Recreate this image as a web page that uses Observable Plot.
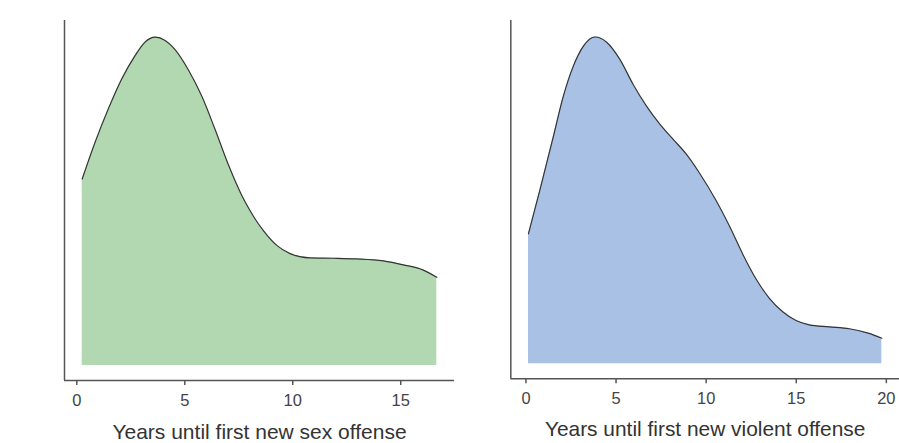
<!DOCTYPE html>
<html>
<head>
<meta charset="utf-8">
<script src="https://cdn.jsdelivr.net/npm/d3@7"></script>
<script src="https://cdn.jsdelivr.net/npm/@observablehq/plot@0.6"></script>
<style>
  html, body { margin: 0; padding: 0; background: #fff; overflow: hidden; }
  #wrap { position: relative; width: 899px; height: 443px; overflow: hidden; font-family: "Liberation Sans", Arial, sans-serif; }
  #left, #right { position: absolute; top: 0; }
  #left { left: 0; }
  #right { left: 470px; }
  svg g[aria-label="x-axis tick label"] { font-size: 16.5px !important; fill: #444 !important; }
  svg g[aria-label="x-axis label"] { font-size: 21px !important; fill: #333 !important; }
</style>
</head>
<body>
<div id="wrap"><div id="left"></div><div id="right"></div></div>
<script>
// Sex offense: years until first new offense (density, scaled so the peak is ~1)
const sexYears   = [0.25, 0.85, 1.46, 2.08, 2.70, 3.16, 3.63, 4.09, 4.55, 5.17, 5.79, 6.40, 7.02, 7.64, 8.02, 8.25, 8.64, 9.26, 9.88, 10.80, 11.88, 12.96, 14.19, 15.12, 16.05, 16.67];
const sexDensity = [0.567, 0.679, 0.780, 0.871, 0.942, 0.983, 0.998, 0.988, 0.960, 0.898, 0.818, 0.718, 0.610, 0.517, 0.471, 0.446, 0.410, 0.365, 0.340, 0.327, 0.326, 0.324, 0.318, 0.306, 0.290, 0.268];

// Violent offense
const violentYears   = [0.14, 0.79, 1.53, 2.08, 2.63, 3.19, 3.83, 4.48, 5.22, 5.95, 6.69, 7.43, 8.16, 8.90, 9.60, 10.56, 11.30, 12.04, 12.78, 13.51, 14.25, 14.99, 15.72, 16.83, 17.94, 19.04, 19.75];
const violentDensity = [0.397, 0.534, 0.696, 0.818, 0.909, 0.970, 0.998, 0.982, 0.929, 0.853, 0.787, 0.732, 0.686, 0.640, 0.585, 0.498, 0.420, 0.334, 0.258, 0.200, 0.159, 0.132, 0.119, 0.113, 0.107, 0.093, 0.078];

const sexTicks = [0, 5, 10, 15];
const violentTicks = [0, 5, 10, 15, 20];
const sexLabel = "Years until first new sex offense";
const violentLabel = "Years until first new violent offense";

const FONT = "'Liberation Sans', Arial, sans-serif";

function panel({years, density, ticks, label, xDomain, fill, width, marginLeft, marginRight}) {
  const data = years.map((t, i) => ({t, d: density[i]}));
  const yDomain = [-0.0456, 1.0486];
  return Plot.plot({
    width, height: 443,
    marginLeft, marginRight, marginTop: 20, marginBottom: 63,
    style: {fontFamily: FONT, background: "transparent", overflow: "visible"},
    x: {domain: xDomain},
    y: {domain: yDomain, axis: null},
    marks: [
      Plot.areaY(data, {x: "t", y1: 0, y2: "d", fill, curve: "monotone-x"}),
      Plot.lineY(data, {x: "t", y: "d", stroke: "#333", strokeWidth: 1.2, curve: "monotone-x"}),
      Plot.ruleY([yDomain[0]], {stroke: "#555", strokeWidth: 1.5}),
      Plot.ruleX([xDomain[0]], {stroke: "#555", strokeWidth: 1.5}),
      Plot.axisX({
        ticks, tickSize: 5, tickPadding: 9, fontSize: 16,
        stroke: "#555", strokeWidth: 1.5, color: "#4d4d4d",
        tickFormat: d3.format("d"),
        label, labelAnchor: "center", labelArrow: "none", labelOffset: 58
      })
    ]
  });
}

const left = panel({
  years: sexYears, density: sexDensity, ticks: sexTicks, label: sexLabel,
  xDomain: [-0.57, 17.49], fill: "#b2d8b1", width: 470, marginLeft: 64, marginRight: 16
});
const right = panel({
  years: violentYears, density: violentDensity, ticks: violentTicks, label: violentLabel,
  xDomain: [-0.84, 20.73], fill: "#a8c1e5", width: 431, marginLeft: 40.5, marginRight: 0
});
document.getElementById("left").append(left);
document.getElementById("right").append(right);
</script>
</body>
</html>
